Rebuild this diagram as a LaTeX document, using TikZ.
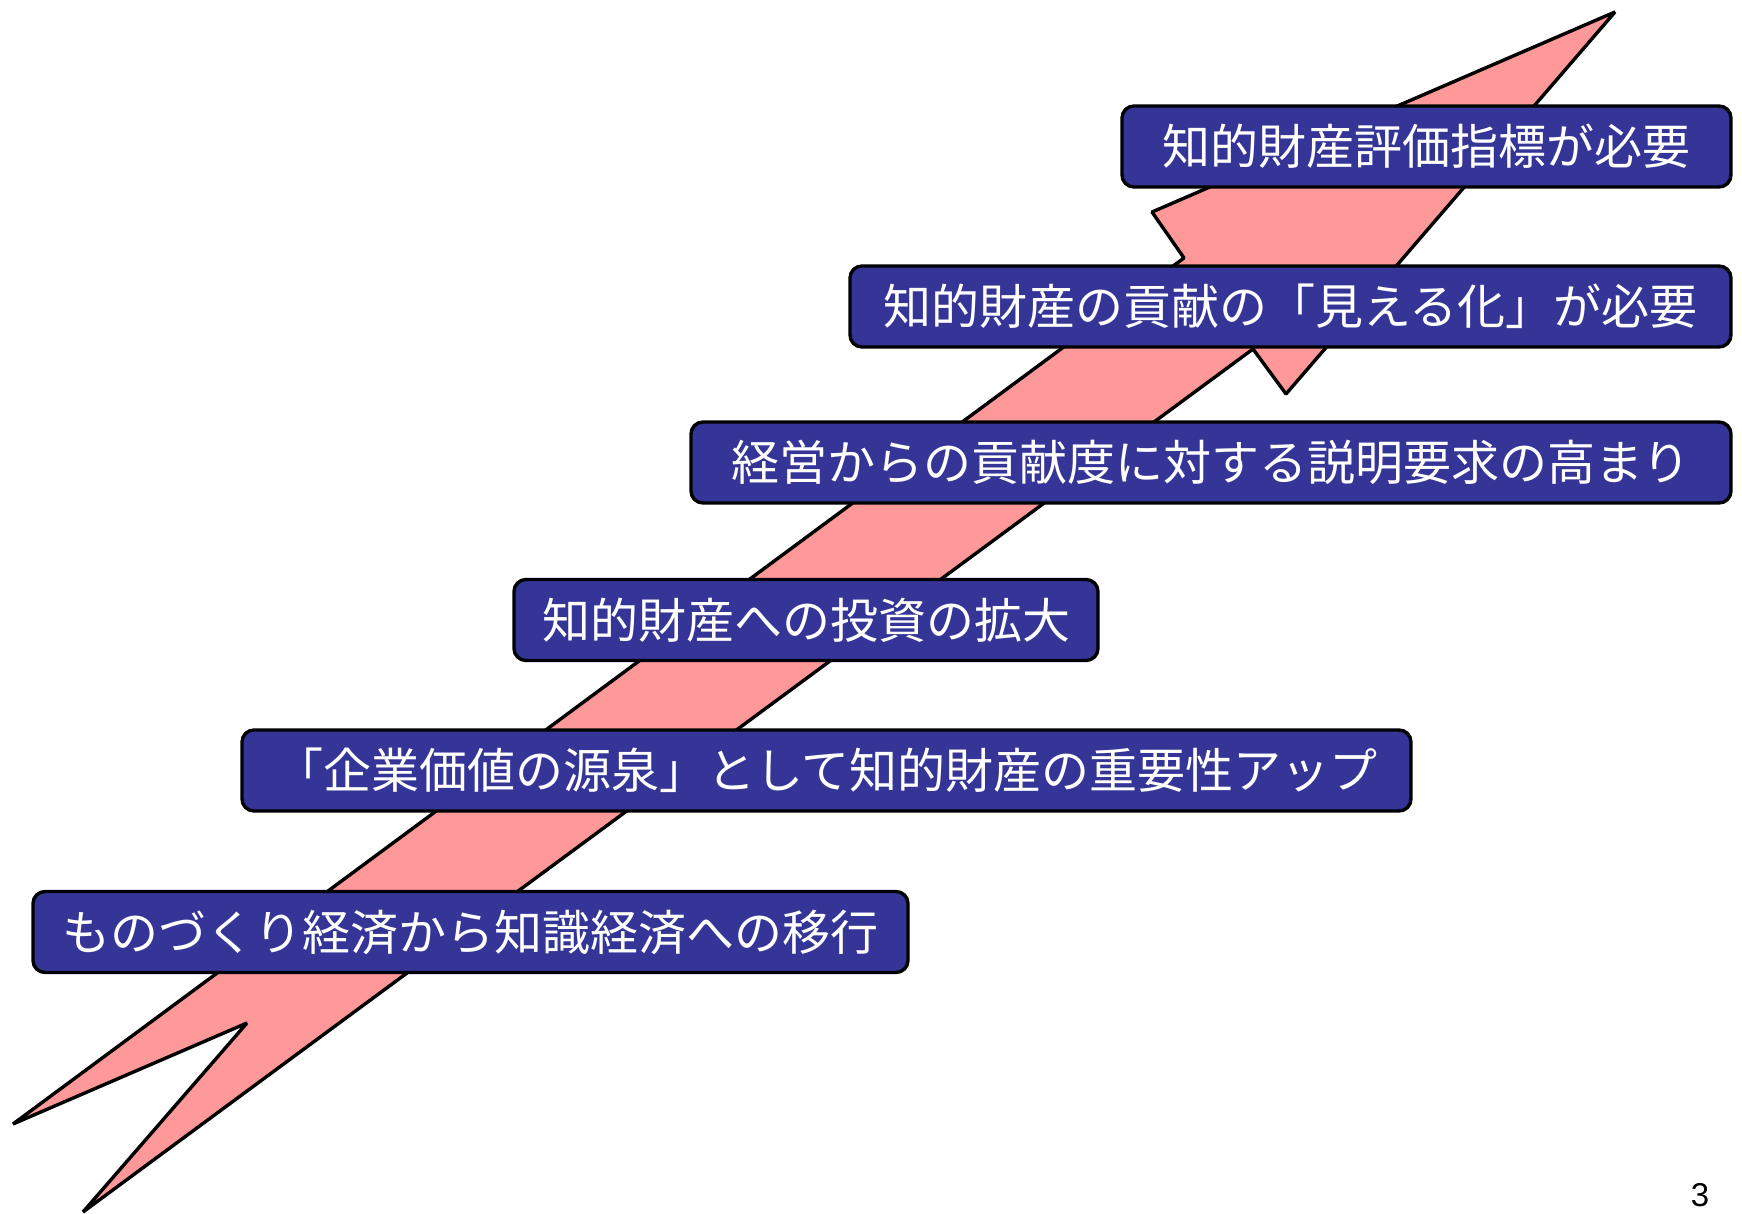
\documentclass[tikz,border=0pt]{standalone}
\usepackage{fontspec}
\newfontfamily\jp{Noto Sans CJK JP}
\newfontfamily\lat{Liberation Sans}
\definecolor{boxblue}{HTML}{353597}
\definecolor{arrowpink}{HTML}{FF9999}
\begin{document}
\begin{tikzpicture}[x=0.5pt,y=-0.5pt,
  stagebox/.style={draw=black,line width=1.7pt,fill=boxblue,rounded corners=6pt,
    minimum height=40.5pt,inner sep=0pt,text=white,anchor=center,
    font=\jp\fontsize{24pt}{28pt}\selectfont}]
\useasboundingbox (0,0) rectangle (1742,1214);
% rising arrow
\draw[line width=1.7pt,fill=arrowpink,line join=bevel]
  (13,1124) -- (1184,258) -- (1152,212) -- (1615,12) -- (1286,394)
  -- (1253,349) -- (83,1212) -- (247,1023) -- cycle;
% stages
\node[stagebox,minimum width=304.5pt] (b1) at (1426.5,146.5) {知的財産評価指標が必要};
\node[stagebox,minimum width=440.5pt] (b2) at (1290.5,306.5) {知的財産の貢献の「見える化」が必要};
\node[stagebox,minimum width=520pt] (b3) at (1211,462.5) {経営からの貢献度に対する説明要求の高まり};
\node[stagebox,minimum width=292pt] (b4) at (806,620) {知的財産への投資の拡大};
\node[stagebox,minimum width=584.5pt] (b5) at (826.5,770.5) {「企業価値の源泉」として知的財産の重要性アップ};
\node[stagebox,minimum width=437.5pt] (b6) at (470.5,932) {ものづくり経済から知識経済への移行};
\node[font=\lat\fontsize{16.5pt}{18pt}\selectfont,inner sep=0pt] (pg) at (1700,1195) {3};
\end{tikzpicture}
\end{document}
